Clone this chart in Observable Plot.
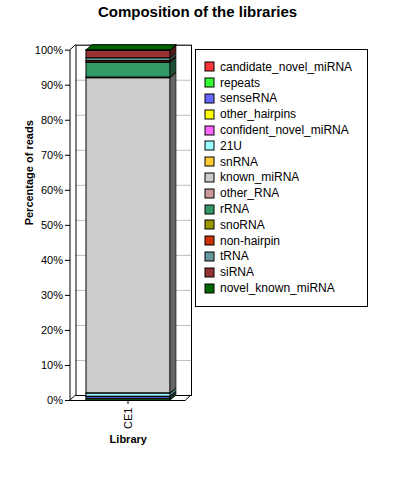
<!DOCTYPE html>
<html><head><meta charset="utf-8">
<script src="https://cdn.jsdelivr.net/npm/d3@7"></script>
<script src="https://cdn.jsdelivr.net/npm/@observablehq/plot@0.6"></script>
<style>
body{margin:0;background:#fff;}
#wrap{position:relative;width:395px;height:500px;overflow:hidden;font-family:"Liberation Sans",Arial,sans-serif;background:#fff;}
#title{position:absolute;left:0;top:3px;width:395px;text-align:center;font-weight:bold;font-size:15px;line-height:18px;z-index:2;color:#000;}
#chart{position:absolute;left:0;top:0;}
#legend{position:absolute;left:195px;top:49px;width:173px;height:258px;border:1px solid #000;box-sizing:border-box;padding:9px 0 0 9px;background:#fff;z-index:2;}
#legend > div{font-family:"Liberation Sans",Arial,sans-serif;font-size:12px;color:#000;margin:0;padding:0;min-height:0;}
#legend > div > div{height:15.8px;padding:0;margin:0;display:flex;align-items:center;}
#legend svg{margin-right:6px;overflow:visible;}
#legend svg rect{stroke:#000;stroke-width:1px;}
</style></head>
<body><div id="wrap"><div id="title">Composition of the libraries</div><div id="chart"></div><div id="legend"></div></div>
<script>
const libraries = ["CE1"];
const types = ["candidate_novel_miRNA","repeats","senseRNA","other_hairpins","confident_novel_miRNA","21U","snRNA","known_miRNA","other_RNA","rRNA","snoRNA","non-hairpin","tRNA","siRNA","novel_known_miRNA"];
const colors = ["#FF3333","#33FF33","#6666FF","#FFFF00","#FF66FF","#99FFFF","#FFCC33","#CCCCCC","#CC9999","#339966","#999900","#CC3300","#669999","#993333","#006600"];
const percentCE1 = [0.05,0.45,0.5,0.05,0.05,0.9,0.05,89.95,0.2,4.2,0.1,0.4,0.8,2.1,0.2];
const yTicks = [0,0.1,0.2,0.3,0.4,0.5,0.6,0.7,0.8,0.9,1];

const data = types.map((t,i)=>({library: libraries[0], type: t, value: percentCE1[i]/100, color: colors[i]}));
const dark = c => { const r = d3.rgb(c); return d3.rgb(r.r*0.5, r.g*0.5, r.b*0.5).formatHex(); };
const total = [{library: libraries[0], sum: d3.sum(data, d=>d.value), color: colors[colors.length-1]}];

const depthX = 6, depthY = 5, boxDX = 5.5, boxDY = 5;
const padL = 16, padR = 15.5, bandW = 115.5, bw = bandW - padL - padR;
const font = '"Liberation Sans",Arial,sans-serif';

const chart = Plot.plot({
  width: 395, height: 500,
  marginLeft: 70, marginRight: 209.5, marginTop: 49.7, marginBottom: 100,
  style: {fontFamily: font, fontSize: "11px", color: "black", background: "transparent", overflow: "visible"},
  color: {type: "identity"},
  x: {domain: libraries, padding: 0, label: null, tickSize: 4, tickRotate: -90, tickPadding: 3},
  y: {domain: [0,1], ticks: yTicks, tickFormat: d3.format(".0%"), tickSize: 5, tickPadding: 2.5, label: null},
  marks: [
    Plot.ruleY(yTicks, {dx: boxDX, dy: -boxDY, stroke: "#bebebe"}),
    Plot.frame({dx: boxDX, dy: -boxDY, stroke: "#000"}),
    Plot.ruleY([0], {stroke: "#000"}),
    Plot.rectY(data, Plot.stackY({x: "library", y: "value", fill: "color", order: null, stroke: "#000", strokeWidth: 1, insetLeft: padL, insetRight: padR})),
    Plot.rectY(data, Plot.stackY({x: "library", y: "value", fill: d => dark(d.color), order: null, stroke: "#000", strokeWidth: 0.5, insetLeft: padL + bw, insetRight: padR - depthX})),
    Plot.rectY(total, {x: "library", y1: "sum", y2: "sum", insetTop: -depthY, insetLeft: padL, insetRight: padR, fill: "color", stroke: "#000", strokeWidth: 1}),
    Plot.text(["Percentage of reads"], {text: d => d, frameAnchor: "left", dx: -41, rotate: -90, fontWeight: "bold", fill: "black"}),
    Plot.text(["Library"], {text: d => d, frameAnchor: "bottom", dy: 42, fontWeight: "bold", fill: "black"})
  ]
});
document.getElementById("chart").appendChild(chart);

// 3D skew of side and top faces
const X = chart.scale("x"), Y = chart.scale("y");
const groups = chart.querySelectorAll('g[aria-label="rect"]');
const xr = X.range, yr = Y.range;
const sideX = Math.min(...xr) + padL + bw;
const topY = Y.apply(total[0].sum);
const addT = (g, t) => { const o = g.getAttribute("transform"); g.setAttribute("transform", t + (o ? " " + o : "")); };
if (groups[1]) addT(groups[1], `translate(${sideX},0) skewY(${-Math.atan(depthY/depthX)*180/Math.PI}) translate(${-sideX},0)`);
if (groups[2]) addT(groups[2], `translate(0,${topY}) skewX(${-Math.atan(depthX/depthY)*180/Math.PI}) translate(0,${-topY})`);

// front left axis line and box corner connectors
const svg = d3.select(chart);
const x0 = Math.min(...xr), x1 = Math.max(...xr), yb = Math.max(...yr), yt = Math.min(...yr);
const p = d3.path();
p.moveTo(x0, yt); p.lineTo(x0, yb);
p.moveTo(x0, yt); p.lineTo(x0+boxDX, yt-boxDY);
p.moveTo(x0, yb); p.lineTo(x0+boxDX, yb-boxDY);
p.moveTo(x1, yb); p.lineTo(x1+boxDX, yb-boxDY);
svg.append("path").attr("d", p.toString()).attr("stroke", "#000").attr("fill", "none");
svg.selectAll("text").attr("fill", "black");

const legend = Plot.legend({color: {domain: types, range: colors}, legend: "swatches", columns: 1, swatchSize: 9});
document.getElementById("legend").appendChild(legend);
</script></body></html>
